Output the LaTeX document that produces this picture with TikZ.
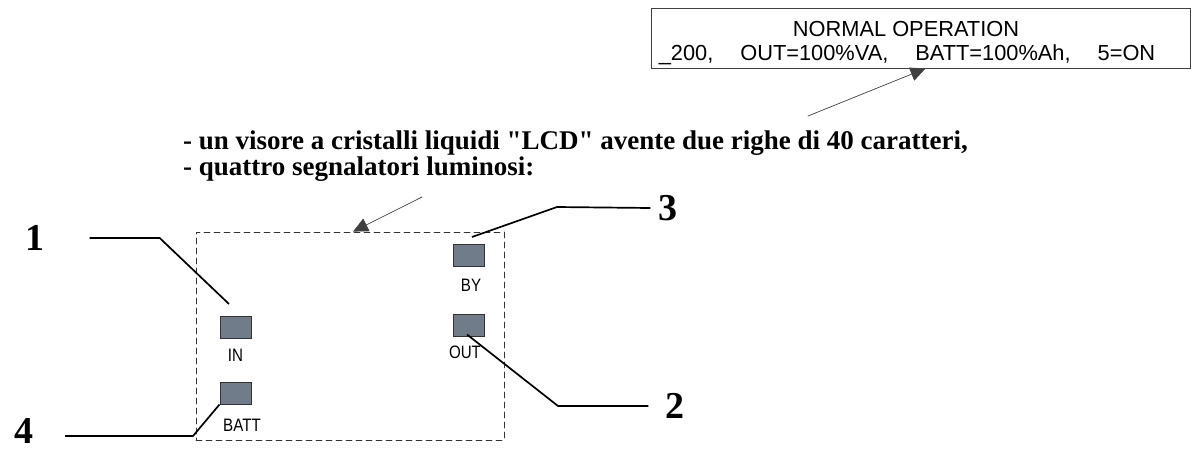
\documentclass[tikz,border=0pt]{standalone}
\usepackage{fontspec}
\setmainfont{Liberation Serif}
\setsansfont{Liberation Sans}
\newfontfamily\rowfont{Liberation Serif}
\usepackage{tikz}
\usetikzlibrary{arrows.meta}
\usepackage{xcolor}
\definecolor{ledgray}{RGB}{112,124,138}

\begin{document}
\begin{tikzpicture}[x=1pt,y=-1pt,>={Triangle[length=15pt,width=14pt]},line cap=round,
  leader/.style={line width=1.7pt,line cap=butt},
  pointer/.style={->,line width=0.7pt,black!75},
  led/.style={draw=black!80,fill=ledgray,line width=1pt,minimum width=31pt,minimum height=22pt,inner sep=0pt},
  ledlabel/.style={font=\sffamily\fontsize{18}{18}\selectfont,xscale=0.84,inner sep=0pt,anchor=base},
  num/.style={font=\bfseries\fontsize{38}{38}\selectfont,inner sep=0pt},
  textline/.style={font=\rowfont\bfseries\fontsize{27}{27}\selectfont,inner sep=0pt,anchor=base west},
  lcdline/.style={font=\sffamily\fontsize{21.8}{21.8}\selectfont,inner sep=0pt,anchor=base}]
\useasboundingbox (0,0) rectangle (1191,448);
\node[draw=black!75,line width=1pt,minimum width=539pt,minimum height=60pt,inner sep=0pt] (lcd) at (920.5,38) {};
\node[lcdline] (lcd1) at (906,36) {NORMAL OPERATION};
\node[lcdline] (lcd2) at (907,60) {\_200,\hspace{27pt}OUT=100\%VA,\hspace{27pt}BATT=100\%Ah,\hspace{27pt}5=ON};
\coordinate (lcdtail) at (808,116);
\draw[pointer] (lcdtail) -- ([xshift=5pt]lcd.south);
\node[textline] (row1) at (183,149) {- un visore a cristalli liquidi "LCD" avente due righe di 40 caratteri,};
\node[textline] (row2) at (183,175) {- quattro segnalatori luminosi:};
\node[draw=black!80,dashed,dash pattern=on 6pt off 4pt,line width=0.8pt,minimum width=308pt,minimum height=208pt,inner sep=0pt] (panel) at (350,336) {};
\coordinate (paneltail) at (422,197);
\draw[pointer] (paneltail) -- ([xshift=3pt]panel.north);
\node[led] (ledin) at (235.5,327) {};
\node[ledlabel] (lblin) at (235.5,361) {IN};
\node[led] (ledbatt) at (235.5,393) {};
\node[ledlabel] (lblbatt) at (242,431) {BATT};
\node[led] (ledby) at (468.5,255) {};
\node[ledlabel] (lblby) at (471,291) {BY};
\node[led] (ledout) at (469,325) {};
\node[ledlabel] (lblout) at (465,358) {OUT};
\node[num] (n1) at (35,238) {1};
\node[num] (n2) at (675,406) {2};
\node[num] (n3) at (668,208) {3};
\node[num] (n4) at (24,431) {4};
\coordinate (p1) at (229,304);
\coordinate (p3) at (472,237);
\draw[leader] ([xshift=45pt]n1.east) -- ++(70,0) -- (p1);
\draw[leader] ([xshift=-2pt]ledout.south) ++(0,-2) -- (558,406) -- ([xshift=-17pt]n2.west);
\draw[leader] (p3) -- (557,207) -- ([xshift=-8pt]n3.west);
\draw[leader] (ledbatt.south west) -- (193,436) -- (65,436);
\end{tikzpicture}
\end{document}
